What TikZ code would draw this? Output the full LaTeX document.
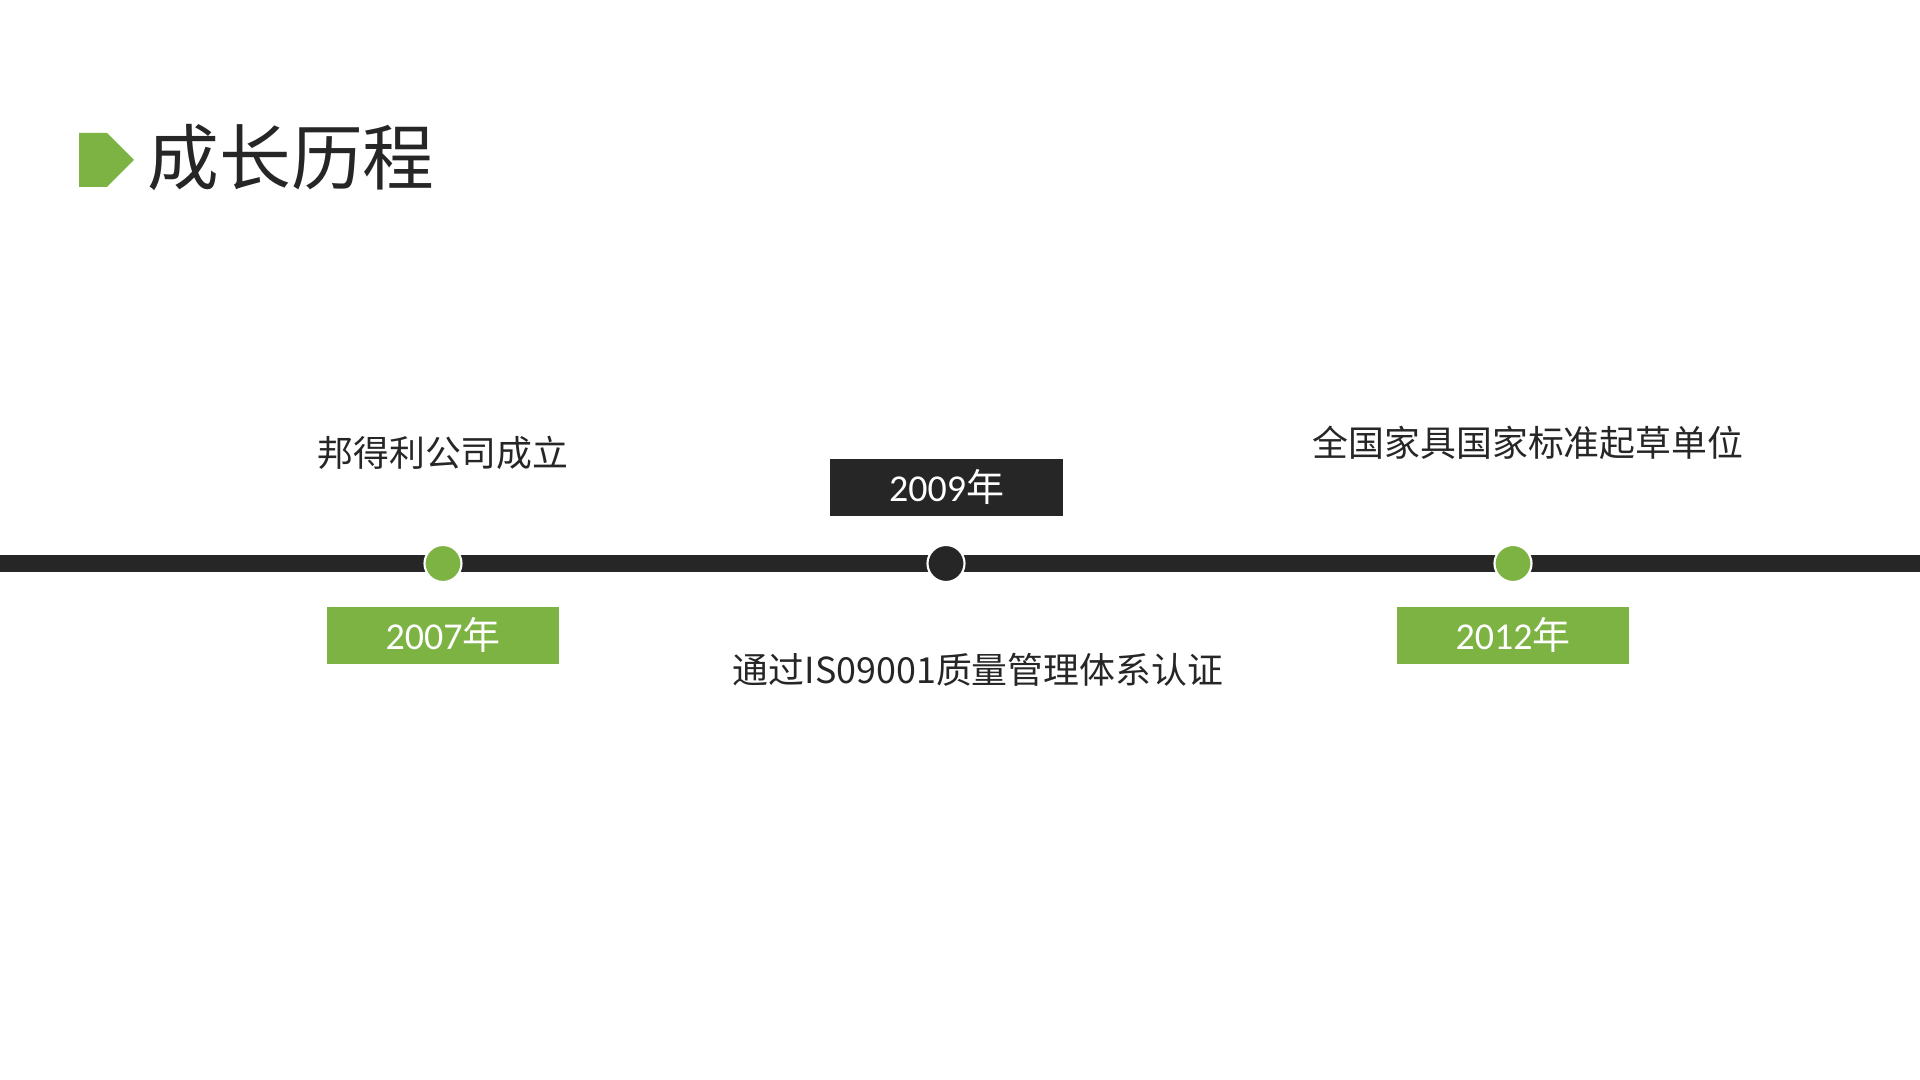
\documentclass[tikz,border=0pt]{standalone}
\usepackage{fontspec}
\setmainfont{Carlito}
\newfontfamily\cjk{Noto Sans CJK SC}
\definecolor{tlgreen}{HTML}{7DB343}
\definecolor{tldark}{HTML}{262626}
\tikzset{
  yearbox/.style={fill=#1, minimum width=2.32cm, minimum height=0.57cm, inner sep=0, text=white, font=\fontsize{10.8}{13}\selectfont},
  dotgreen/.style={circle, fill=tlgreen, draw=white, line width=0.6pt, minimum size=0.37cm, inner sep=0},
  dotdark/.style={circle, fill=tldark, draw=white, line width=0.6pt, minimum size=0.37cm, inner sep=0},
  label/.style={text=tldark, font=\cjk\fontsize{10.2}{12}\selectfont, inner sep=0},
}
\begin{document}
\begin{tikzpicture}[x=0.01cm, y=-0.01cm]
\useasboundingbox (0,0) rectangle (1920,1080);
\fill[white] (0,0) rectangle (1920,1080);
% title
\fill[tlgreen] (79,133) -- (107,133) -- (134,160) -- (107,187) -- (79,187) -- cycle;
\node[anchor=west, inner sep=0, text=tldark, font=\cjk\fontsize{20.4}{24}\selectfont] (title) at (147,158) {成长历程};
% timeline
\coordinate (L) at (0,563.5);
\coordinate (R) at (1920,563.5);
\draw[tldark, line width=0.17cm] (L) -- (R);
\node[dotgreen] (d1) at (443,563.5) {};
\node[dotdark] (d2) at (946,563.5) {};
\node[dotgreen] (d3) at (1513,563.5) {};
% year boxes
\node[yearbox=tlgreen] (y1) at (443,635.5) {2007{\cjk 年}};
\node[yearbox=tldark] (y2) at (946.5,487.5) {2009{\cjk 年}};
\node[yearbox=tlgreen] (y3) at (1513,635.5) {2012{\cjk 年}};
% labels
\node[label] (t1) at (443,453) {邦得利公司成立};
\node[label] (t2) at (978,670) {通过IS09001质量管理体系认证};
\node[label] (t3) at (1528,443) {全国家具国家标准起草单位};
\end{tikzpicture}
\end{document}
